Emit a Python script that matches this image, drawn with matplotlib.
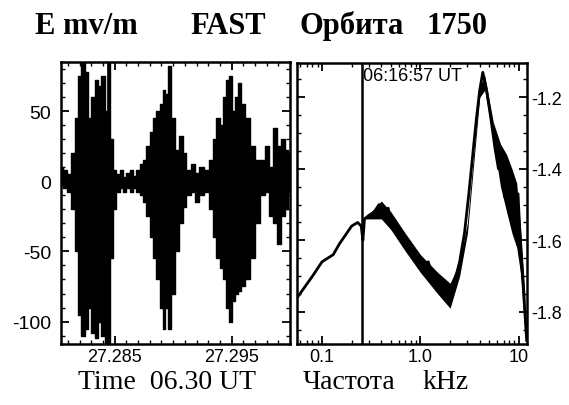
import numpy as np
import matplotlib
matplotlib.use('Agg')
import matplotlib.pyplot as plt
from matplotlib.ticker import MultipleLocator, FixedLocator, NullFormatter

# waveform envelope (time in s after 27.28, E in mV/m)
wave_t = [0.00038, 0.00073, 0.00115, 0.00144, 0.00172, 0.00201, 0.00229, 0.00258,
          0.00286, 0.00315, 0.00343, 0.00372, 0.00400, 0.00429, 0.00452, 0.00472,
          0.00500, 0.00528, 0.00557, 0.00585, 0.00614, 0.00642, 0.00671, 0.00699,
          0.00728, 0.00756, 0.00785, 0.00813, 0.00842, 0.00870, 0.00899, 0.00919,
          0.00942, 0.00970, 0.00999, 0.01027, 0.01070, 0.01098, 0.01127, 0.01170,
          0.01198, 0.01241, 0.01283, 0.01326, 0.01355, 0.01383, 0.01412, 0.01440,
          0.01469, 0.01489, 0.01511, 0.01540, 0.01568, 0.01597, 0.01640, 0.01682,
          0.01725, 0.01768, 0.01796, 0.01839, 0.01868, 0.01910, 0.01939, 0.01967,
          0.01996]
wave_hi = [10, 8, 5, 20, 45, 75, 85, 78, 45, 60, 72, 68, 75, 50, 85, 30,
           8, 5, 8, 3, 6, 8, 4, 8, 12, 15, 25, 35, 45, 50, 55, 65,
           62, 82, 45, 22, 32, 20, 8, 12, 6, 10, 8, 15, 30, 45, 40, 60,
           72, 75, 50, 60, 70, 55, 45, 25, 15, 15, 25, 10, 38, 25, 30, 22, 20]
wave_lo = [-3, -5, -8, -20, -50, -95, -110, -105, -90, -108, -112, -100, -110, -116, -116, -55,
           -20, -8, -5, -8, -5, -8, -5, -8, -10, -15, -25, -40, -55, -70, -90, -105,
           -90, -105, -80, -50, -30, -18, -10, -8, -15, -10, -8, -20, -40, -55, -62, -70,
           -90, -100, -85, -80, -78, -75, -70, -55, -30, -10, -8, -25, -30, -45, -25, -20, -8]
t_base = 27.28
cursor_t = 27.2844

# spectrum
spec_f = [0.056, 0.08, 0.1, 0.13, 0.15, 0.2, 0.23, 0.25, 0.26, 0.27, 0.3, 0.34,
          0.38, 0.42, 0.47, 0.5, 0.6, 0.7, 0.8, 0.9, 1.0, 1.2, 1.4, 1.6, 1.8,
          2.0, 2.2, 2.5, 2.8, 3.1, 3.4, 3.7, 4.0, 4.3, 4.7, 5.2, 5.7, 6.2,
          6.8, 7.2, 7.8, 8.3, 8.8, 9.3, 9.8, 10.4, 11.0, 11.5, 12.0]
spec_v = [-1.76, -1.70, -1.66, -1.64, -1.61, -1.56, -1.55, -1.56, -1.60, -1.54, -1.53, -1.52,
          -1.50, -1.53, -1.51, -1.55, -1.57, -1.61, -1.63, -1.66, -1.68, -1.66, -1.72, -1.71, -1.74,
          -1.77, -1.72, -1.66, -1.58, -1.47, -1.36, -1.26, -1.18, -1.13, -1.18, -1.26, -1.34, -1.40,
          -1.38, -1.48, -1.42, -1.50, -1.44, -1.52, -1.47, -1.62, -1.72, -1.80, -1.88]
# spread of the noisy spectrum
band_f = [0.27, 0.4, 0.5, 0.7, 1.0, 1.5, 2.0, 2.5, 3.0, 4.0, 4.5, 5.5, 6.5, 7.5, 8.5, 9.5, 10.5, 11.5]
band_hi = [-1.54, -1.49, -1.52, -1.58, -1.64, -1.69, -1.72, -1.66, -1.55, -1.17, -1.14, -1.27,
           -1.33, -1.36, -1.40, -1.44, -1.58, -1.75]
band_lo = [-1.54, -1.54, -1.57, -1.63, -1.69, -1.75, -1.79, -1.70, -1.58, -1.20, -1.18, -1.32,
           -1.45, -1.52, -1.58, -1.62, -1.70, -1.86]
cursor_f = 0.255

plt.rcParams['font.family'] = ['Liberation Sans', 'DejaVu Sans']

fig = plt.figure(figsize=(5.69, 4.06), dpi=100)
ax1 = fig.add_axes([0.1072, 0.1502, 0.4025, 0.6946])
ax2 = fig.add_axes([0.522, 0.1502, 0.404, 0.6921])

t = [t_base + v for v in wave_t]
ax1.fill_between(t, wave_lo, wave_hi, step='mid', color='black', linewidth=1.0,
                 edgecolor='black')
ax1.axvline(cursor_t, color='black', linewidth=1.2)
ax1.set_xlim(27.2804, 27.3000)
ax1.set_ylim(-116, 85)
ax1.xaxis.set_major_locator(FixedLocator([27.285, 27.295]))
ax1.set_xticklabels(['27.285', '27.295'])
ax1.xaxis.set_minor_locator(MultipleLocator(0.001))
ax1.set_yticks([-100, -50, 0, 50])
ax1.set_yticklabels(['-100', '-50', '0', '50'])
ax1.yaxis.set_minor_locator(MultipleLocator(10))

ax2.fill_between(band_f, band_lo, band_hi, color='black', linewidth=0)
ax2.plot(spec_f, spec_v, color='black', linewidth=2.0)
ax2.axvline(cursor_f, color='black', linewidth=1.8)
ax2.set_xscale('log')
ax2.set_xlim(0.0557, 12.06)
ax2.set_ylim(-1.89, -1.104)
ax2.xaxis.set_major_locator(FixedLocator([0.1, 1.0, 10]))
ax2.xaxis.set_minor_formatter(NullFormatter())
ax2.set_xticklabels(['0.1', '1.0', '10'])
ax2.yaxis.set_minor_locator(MultipleLocator(0.05))
ax2.yaxis.tick_right()
ax2.set_yticks([-1.8, -1.6, -1.4, -1.2])
ax2.set_yticklabels(['-1.8', '-1.6', '-1.4', '-1.2'])
ax2.text(0.285, 0.955, '06:16:57 UT', transform=ax2.transAxes, fontsize=13,
         ha='left', va='center')

for ax in (ax1, ax2):
    for s in ax.spines.values():
        s.set_linewidth(1.8)
    ax.tick_params(which='both', direction='in', top=True, right=True, left=True,
                   labelsize=13, pad=3)
    ax.tick_params(which='major', length=6, width=1.3)
    ax.tick_params(which='minor', length=3, width=1.0)
ax1.tick_params(axis='y', labelsize=14, pad=7)
ax2.tick_params(labelleft=False, labelright=True)

serif = ['Liberation Serif', 'DejaVu Serif']
for x, word in [(0.062, 'E mv/m'), (0.334, 'FAST'), (0.527, 'Орбита'), (0.750, '1750')]:
    fig.text(x, 0.935, word, family=serif, fontweight='bold', fontsize=22, va='center')
fig.text(0.137, 0.057, 'Time  06.30 UT', family=serif, fontsize=20, va='center')
fig.text(0.532, 0.057, 'Частота', family=serif, fontsize=20, va='center')
fig.text(0.742, 0.057, 'kHz', family=serif, fontsize=20, va='center')

fig.savefig('out.png', dpi=100)
